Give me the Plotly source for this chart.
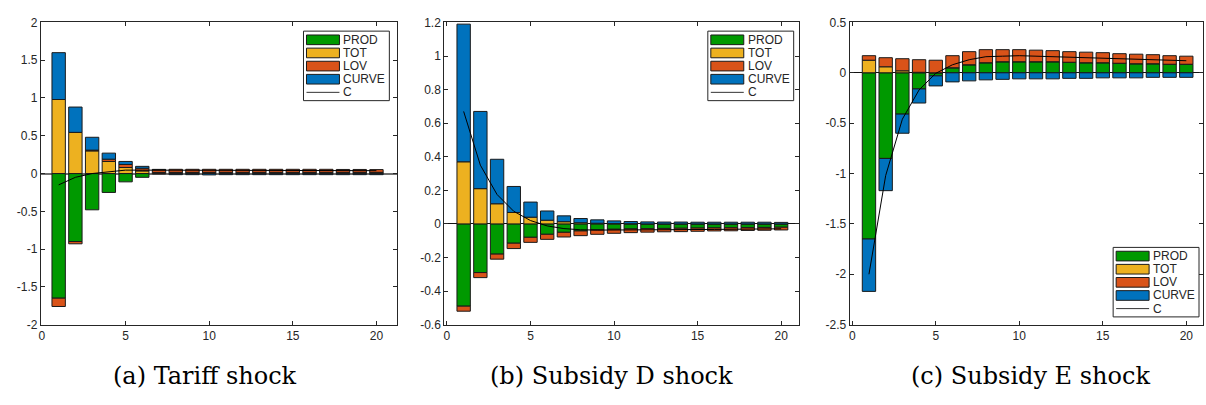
import plotly.graph_objects as go

W, H = 1206, 405

periods = list(range(1, 21))
series_names = ["PROD", "TOT", "LOV", "CURVE"]
captions = ["(a) Tariff shock", "(b) Subsidy D shock", "(c) Subsidy E shock"]

# Panel (a) Tariff shock
a_prod = [-1.65, -0.90, -0.48, -0.25, -0.11, -0.05, -0.005, 0.012, 0.012, 0.012, 0.012, 0.012, 0.012, 0.012, 0.012, 0.012, 0.012, 0.012, 0.012, 0.012]
a_tot = [0.98, 0.545, 0.30, 0.16, 0.08, 0.035, 0.015, 0.004, 0.004, 0.004, 0.004, 0.004, 0.004, 0.004, 0.004, 0.004, 0.004, 0.004, 0.004, 0.004]
a_lov = [-0.11, -0.03, 0.01, 0.03, 0.04, 0.035, 0.035, 0.04, 0.04, 0.04, 0.04, 0.04, 0.04, 0.04, 0.04, 0.04, 0.04, 0.038, 0.038, 0.036]
a_curve = [0.62, 0.335, 0.17, 0.08, 0.04, 0.025, 0.005, -0.015, -0.015, -0.018, -0.015, -0.015, -0.015, -0.015, -0.015, -0.015, -0.015, -0.015, -0.015, -0.015]
a_c = [-0.15, -0.05, 0.0, 0.02, 0.045, 0.045, 0.045, 0.042, 0.042, 0.04, 0.04, 0.04, 0.04, 0.04, 0.04, 0.04, 0.04, 0.04, 0.04, 0.038]

# Panel (b) Subsidy D shock
b_prod = [-0.49, -0.29, -0.18, -0.115, -0.08, -0.062, -0.05, -0.042, -0.036, -0.032, -0.03, -0.028, -0.027, -0.026, -0.025, -0.024, -0.023, -0.022, -0.021, -0.02]
b_tot = [0.37, 0.21, 0.12, 0.068, 0.04, 0.022, 0.013, 0.007, 0.004, 0.002, 0.001, 0.0, 0.0, 0.0, 0.0, 0.0, 0.0, 0.0, 0.0, 0.0]
b_lov = [-0.03, -0.03, -0.03, -0.032, -0.03, -0.03, -0.028, -0.028, -0.026, -0.024, -0.022, -0.021, -0.02, -0.02, -0.019, -0.018, -0.018, -0.017, -0.017, -0.016]
b_curve = [0.82, 0.46, 0.265, 0.155, 0.09, 0.055, 0.035, 0.025, 0.02, 0.016, 0.013, 0.012, 0.011, 0.011, 0.01, 0.01, 0.01, 0.01, 0.01, 0.009]
b_c = [0.67, 0.35, 0.175, 0.075, 0.02, -0.012, -0.028, -0.035, -0.037, -0.037, -0.037, -0.036, -0.035, -0.035, -0.034, -0.033, -0.032, -0.031, -0.030, -0.029]

# Panel (c) Subsidy E shock
c_prod = [-1.65, -0.85, -0.41, -0.16, -0.03, 0.05, 0.08, 0.10, 0.11, 0.11, 0.11, 0.11, 0.105, 0.10, 0.10, 0.095, 0.09, 0.09, 0.085, 0.085]
c_tot = [0.125, 0.06, 0.02, 0.005, 0.0, 0.0, 0.0, 0.0, 0.0, 0.0, 0.0, 0.0, 0.0, 0.0, 0.0, 0.0, 0.0, 0.0, 0.0, 0.0]
c_lov = [0.045, 0.09, 0.12, 0.125, 0.125, 0.12, 0.13, 0.13, 0.12, 0.12, 0.115, 0.11, 0.105, 0.105, 0.10, 0.095, 0.095, 0.09, 0.085, 0.08]
c_curve = [-0.52, -0.32, -0.19, -0.14, -0.10, -0.09, -0.08, -0.07, -0.065, -0.06, -0.06, -0.06, -0.055, -0.055, -0.05, -0.05, -0.05, -0.045, -0.045, -0.045]
c_c = [-2.0, -1.02, -0.46, -0.17, -0.005, 0.08, 0.13, 0.16, 0.165, 0.17, 0.165, 0.16, 0.155, 0.15, 0.15, 0.14, 0.135, 0.135, 0.125, 0.12]

a_yticks = [-2, -1.5, -1, -0.5, 0, 0.5, 1, 1.5, 2]
b_yticks = [-0.6, -0.4, -0.2, 0, 0.2, 0.4, 0.6, 0.8, 1, 1.2]
c_yticks = [-2.5, -2, -1.5, -1, -0.5, 0, 0.5]
xticks = [0, 5, 10, 15, 20]

colors = ["#009900", "#EDB120", "#D95319", "#0072BD"]
AX = "#262626"

panels = [
    dict(series=[a_prod, a_tot, a_lov, a_curve], c=a_c, yt=a_yticks, yr=[-2, 2],
         xpx=(39, 396), xr=[-0.06, 21.25], leg=(302, 25), zc="#6e6e6e", zw=1.5),
    dict(series=[b_prod, b_tot, b_lov, b_curve], c=b_c, yt=b_yticks, yr=[-0.6, 1.2],
         xpx=(443, 798), xr=[-0.16, 21.05], leg=(707, 25), zc="#111111", zw=1),
    dict(series=[c_prod, c_tot, c_lov, c_curve], c=c_c, yt=c_yticks, yr=[-2.5, 0.5],
         xpx=(849, 1203), xr=[-0.16, 21.0], leg=(1113, 249), zc="#111111", zw=1),
]

PLOT_TOP, PLOT_BOT = 16, 329

def px(x):
    return x / W

def py(y):
    return 1 - y / H

def fmt(v):
    return "%g" % v

fig = go.Figure()
layout = dict(
    width=W, height=H, margin=dict(l=0, r=0, t=0, b=0),
    paper_bgcolor="white", plot_bgcolor="white",
    barmode="relative", bargap=0.2, showlegend=False,
    font=dict(family="Liberation Sans, Arial, sans-serif", size=12, color=AX),
)
shapes = []
annotations = []

for i, p in enumerate(panels):
    n = "" if i == 0 else str(i + 1)
    xa, ya = "x" + n, "y" + n
    for name, vals, col in zip(series_names, p["series"], colors):
        fig.add_trace(go.Bar(x=periods, y=vals, name=name, xaxis=xa, yaxis=ya,
                             marker=dict(color=col, line=dict(color="#1a1a1a", width=1)),
                             width=0.8, offsetgroup="g" + n))
    fig.add_trace(go.Scatter(x=periods, y=p["c"], name="C", mode="lines", xaxis=xa, yaxis=ya,
                             line=dict(color="black", width=1)))
    common = dict(showline=True, linecolor=AX, linewidth=1, mirror="ticks",
                  ticks="inside", ticklen=4, tickcolor=AX, showgrid=False,
                  tickfont=dict(size=12, color=AX))
    layout["xaxis" + n] = dict(domain=[px(p["xpx"][0]), px(p["xpx"][1])], range=p["xr"],
                               anchor=ya, tickvals=xticks, ticktext=[fmt(v) for v in xticks],
                               zeroline=False, **common)
    layout["yaxis" + n] = dict(domain=[py(PLOT_BOT), py(PLOT_TOP)], range=p["yr"],
                               anchor=xa, tickvals=p["yt"], ticktext=[fmt(v) for v in p["yt"]],
                               zeroline=True, zerolinecolor=p["zc"], zerolinewidth=p["zw"], **common)
    # manual MATLAB-style legend
    lx, ly = p["leg"]
    bw, bh = 86, 72
    shapes.append(dict(type="rect", xref="paper", yref="paper", x0=px(lx), x1=px(lx + bw),
                       y0=py(ly + bh), y1=py(ly), line=dict(color=AX, width=1), fillcolor="white",
                       layer="above"))
    for k, (name, col) in enumerate(zip(series_names + ["C"], colors + ["black"])):
        cy = ly + 9 + k * 13.6
        if name != "C":
            shapes.append(dict(type="rect", xref="paper", yref="paper",
                               x0=px(lx + 3), x1=px(lx + 36), y0=py(cy + 5), y1=py(cy - 5),
                               fillcolor=col, line=dict(color="#1a1a1a", width=1), layer="above"))
        else:
            shapes.append(dict(type="line", xref="paper", yref="paper",
                               x0=px(lx + 3), x1=px(lx + 36), y0=py(cy), y1=py(cy),
                               line=dict(color="#333333", width=1), layer="above"))
        annotations.append(dict(text=name, xref="paper", yref="paper", x=px(lx + 38), y=py(cy),
                                xanchor="left", yanchor="middle", showarrow=False,
                                font=dict(size=12, color=AX)))

cap_x = [203, 611, 1030]
for t, cx in zip(captions, cap_x):
    annotations.append(dict(text=t, xref="paper", yref="paper", x=px(cx), y=py(382),
                            xanchor="center", yanchor="middle", showarrow=False,
                            font=dict(family="DejaVu Serif, serif", size=24, color="black")))

layout["shapes"] = shapes
layout["annotations"] = annotations
fig.update_layout(**layout)
fig.write_html("out.html")
